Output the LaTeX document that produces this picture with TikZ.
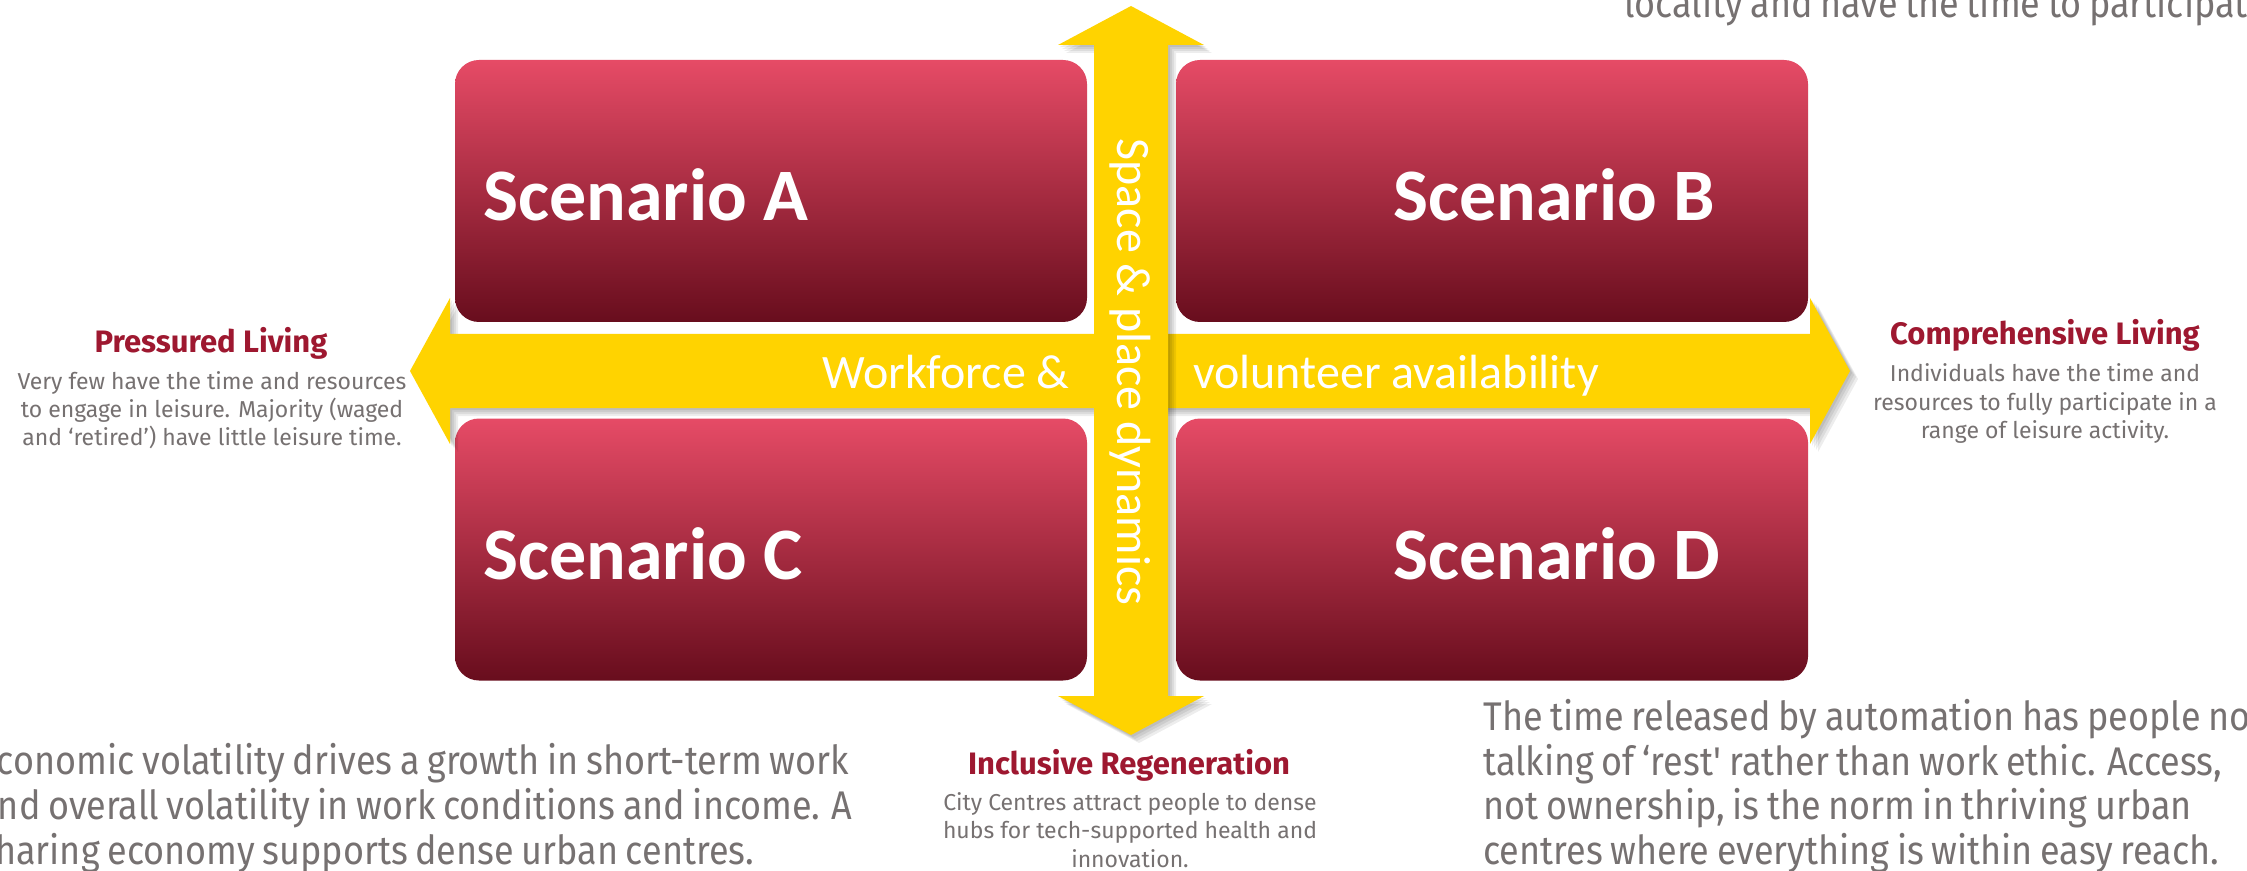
\documentclass[tikz,border=0pt]{standalone}
\usepackage{fontspec}
\setmainfont{Fira Sans}
\newfontfamily\carlito{Carlito}
\newfontfamily\bigfont[FakeStretch=0.90,WordSpace=0.8]{Fira Sans}
\definecolor{boxtop}{HTML}{E64B66}
\definecolor{boxmid}{HTML}{A6132F}
\definecolor{boxbot}{HTML}{680D1D}
\definecolor{axisyellow}{HTML}{FFD300}
\definecolor{headred}{HTML}{9E1830}
\definecolor{txtgray}{HTML}{767171}
\tikzset{
  box/.style={rectangle, rounded corners=12pt, minimum width=316pt, minimum height=131pt,
    inner sep=0pt, top color=boxtop, middle color=boxmid, bottom color=boxbot, draw=none},
  scen/.style={font=\carlito\bfseries\fontsize{37}{44}\selectfont, text=white, anchor=base west, inner sep=0pt},
  axislbl/.style={font=\carlito\fontsize{24}{28}\selectfont, text=white, inner sep=0pt},
  head/.style={font=\bfseries\fontsize{15.5}{18}\selectfont, text=headred, anchor=base, inner sep=0pt},
  desc/.style={font=\fontsize{11.5}{14}\selectfont, text=txtgray, anchor=base, inner sep=0pt},
  big/.style={font=\bigfont\fontsize{20}{24}\selectfont, text=txtgray, anchor=base west, inner sep=0pt},
  harrowpath/.style={insert path={(410,371) -- (450,298) -- (450,334) -- (1810,334) -- (1810,298) -- (1850,371) -- (1810,444) -- (1810,408) -- (450,408) -- (450,444) -- cycle}},
  varrowpath/.style={insert path={(1131,6) -- (1204,45) -- (1168,45) -- (1168,696) -- (1204,696) -- (1131,735) -- (1058,696) -- (1094,696) -- (1094,45) -- (1058,45) -- cycle}},
}
\begin{document}
\begin{tikzpicture}[x=0.5pt,y=-0.5pt]
\useasboundingbox (0,0) rectangle (2247,871);
\clip (0,0) rectangle (2247,871);
\fill[white] (0,0) rectangle (2247,871);

% scenario boxes
\node[box] (A) at (771,191) {};
\node[box] (B) at (1492,191) {};
\node[box] (C) at (771,549.5) {};
\node[box] (D) at (1492,549.5) {};
\node[scen] (tA) at (483,221) {Scenario A};
\node[scen] (tB) at (1393,221) {Scenario B};
\node[scen] (tC) at (483,579) {Scenario C};
\node[scen] (tD) at (1393,579) {Scenario D};

% horizontal axis arrow
\foreach \s in {2,4,6,8} {\fill[black, opacity=0.07, shift={(\s,\s)}, harrowpath];}
\fill[axisyellow, harrowpath];
\node[axislbl, anchor=base] (hl) at (946,388) {Workforce \&};
\node[axislbl, anchor=base] (hr) at (1396,388) {volunteer availability};

% vertical axis arrow
\foreach \s in {2,4,6,8} {\fill[black, opacity=0.07, shift={(\s,\s)}, varrowpath];}
\fill[axisyellow, varrowpath];
\node[axislbl, anchor=base, rotate=-90] (vl) at (1117,372) {Space \& place dynamics};

% pole labels
\node[head] (pl) at (211,353) {Pressured Living};
\node[desc] (pl1) at (212,389) {Very few have the time and resources};
\node[desc] (pl2) at (212,417) {to engage in leisure. Majority (waged};
\node[desc] (pl3) at (212,445) {and ‘retired’) have little leisure time.};

\node[head] (cl) at (2045,345) {Comprehensive Living};
\node[desc] (cl1) at (2045,381) {Individuals have the time and};
\node[desc] (cl2) at (2045,410) {resources to fully participate in a};
\node[desc] (cl3) at (2045,438) {range of leisure activity.};

\node[head] (ir) at (1129,774) {Inclusive Regeneration};
\node[desc] (ir1) at (1130,810) {City Centres attract people to dense};
\node[desc] (ir2) at (1130,838) {hubs for tech-supported health and};
\node[desc] (ir3) at (1130,867) {innovation.};

% scenario narratives (partly cut by the page edge)
\node[big] (tr1) at (1624,18) {locality and have the time to participate.};

\node[big] (bl1) at (-22,774) {Economic volatility drives a growth in short-term work};
\node[big] (bl2) at (-22,819) {and overall volatility in work conditions and income. A};
\node[big] (bl3) at (-22,864) {sharing economy supports dense urban centres.};

\node[big] (br1) at (1483,730) {The time released by automation has people now};
\node[big] (br2) at (1483,775) {talking of ‘rest\textquotesingle\ rather than work ethic. Access,};
\node[big] (br3) at (1483,819) {not ownership, is the norm in thriving urban};
\node[big] (br4) at (1483,864) {centres where everything is within easy reach.};
\end{tikzpicture}
\end{document}
